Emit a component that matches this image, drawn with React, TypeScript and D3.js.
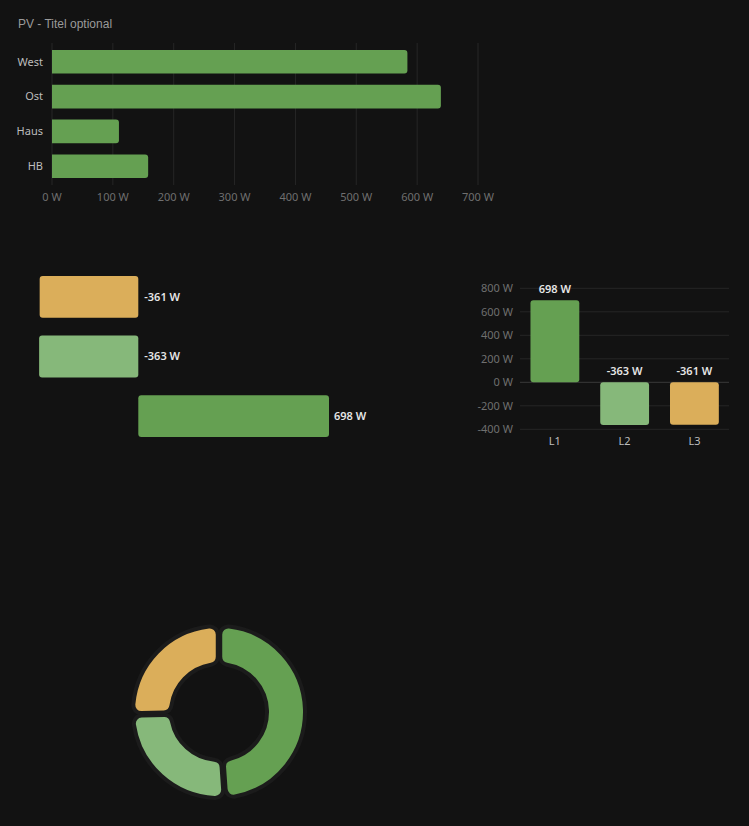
import React from "react";
import * as d3 from "d3";

// PV Erzeugung
const pvNames = ["West", "Ost", "Haus", "HB"];
const pvValues = [584, 639, 110, 158];
const pvTicks = [0, 100, 200, 300, 400, 500, 600, 700];

// Phasen
const phases = ["L1", "L2", "L3"];
const phaseValues = [698, -363, -361];
const phaseTicks = [800, 600, 400, 200, 0, -200, -400];
const phaseColors = ["#65a052", "#86b87a", "#dbae5a"];

// horizontal list, top to bottom
const listOrder = ["L3", "L2", "L1"];

const BG = "#121212";
const FONT = "'Noto Sans', 'Open Sans', sans-serif";

function PvChart() {
  const x = d3.scaleLinear().domain([0, 700]).range([52, 478]);
  const y = d3.scaleBand().domain(pvNames).range([44, 184]).paddingInner(0.32).paddingOuter(0.17);
  return (
    <g>
      <text x={18} y={28} fill="#9a9a9a" fontSize={12} fontFamily="'Liberation Sans', Arial, sans-serif">
        PV - Titel optional
      </text>
      {pvTicks.map((t) => (
        <g key={t}>
          <line x1={x(t)} x2={x(t)} y1={43} y2={185} stroke="#262626" strokeWidth={1} />
          <text x={x(t)} y={201} fill="#6f6f6f" fontSize={11} textAnchor="middle" fontFamily={FONT}>
            {t} W
          </text>
        </g>
      ))}
      {pvNames.map((n, i) => {
        const w = x(pvValues[i]) - x(0);
        const h = y.bandwidth();
        const y0 = y(n)!;
        const r = 3;
        const x0 = x(0);
        const path = `M${x0},${y0}H${x0 + w - r}Q${x0 + w},${y0} ${x0 + w},${y0 + r}V${y0 + h - r}Q${x0 + w},${y0 + h} ${x0 + w - r},${y0 + h}H${x0}Z`;
        return (
          <g key={n}>
            <path d={path} fill="#65a052" />
            <text x={43} y={y0 + h / 2} dy="0.35em" fill="#bdbdbd" fontSize={11} textAnchor="end" fontFamily={FONT}>
              {n}
            </text>
          </g>
        );
      })}
    </g>
  );
}

function PhaseList() {
  const x = d3.scaleLinear().domain([0, 698]).range([138.3, 329]);
  const y = d3.scaleBand().domain(listOrder).range([267, 446]).paddingInner(0.3).paddingOuter(0.15);
  return (
    <g>
      {listOrder.map((p) => {
        const i = phases.indexOf(p);
        const v = phaseValues[i];
        const x0 = Math.min(x(0), x(v));
        const w = Math.abs(x(v) - x(0));
        const yy = y(p)!;
        return (
          <g key={p}>
            <rect x={x0} y={yy} width={w} height={y.bandwidth()} rx={3} fill={phaseColors[i]} />
            <text
              x={v < 0 ? x(0) + 6 : x(v) + 5}
              y={yy + y.bandwidth() / 2}
              dy="0.35em"
              fill="#e6e6e6"
              fontSize={11}
              fontWeight="600"
              fontFamily={FONT}
            >
              {v} W
            </text>
          </g>
        );
      })}
    </g>
  );
}

function PhaseColumns() {
  const y = d3.scaleLinear().domain([-400, 800]).range([429.3, 288.3]);
  const x = d3.scaleBand().domain(phases).range([520, 729.3]).paddingInner(0.3).paddingOuter(0.15);
  return (
    <g>
      {phaseTicks.map((t) => (
        <g key={t}>
          <line x1={520} x2={729} y1={y(t)} y2={y(t)} stroke={t === 0 ? "#3a3a3a" : "#262626"} strokeWidth={1} />
          <text x={513} y={y(t)} dy="0.35em" fill="#6f6f6f" fontSize={11} textAnchor="end" fontFamily={FONT}>
            {t} W
          </text>
        </g>
      ))}
      {phases.map((p, i) => {
        const v = phaseValues[i];
        const y0 = Math.min(y(0), y(v));
        const h = Math.abs(y(v) - y(0));
        return (
          <g key={p}>
            <rect x={x(p)} y={y0} width={x.bandwidth()} height={h} rx={3} fill={phaseColors[i]} />
            <text
              x={x(p)! + x.bandwidth() / 2}
              y={y0 - 7}
              fill="#e6e6e6"
              fontSize={11}
              fontWeight="600"
              textAnchor="middle"
              fontFamily={FONT}
            >
              {v} W
            </text>
            <text x={x(p)! + x.bandwidth() / 2} y={445} fill="#bdbdbd" fontSize={11} textAnchor="middle" fontFamily={FONT}>
              {p}
            </text>
          </g>
        );
      })}
    </g>
  );
}

function Donut() {
  const pie = d3.pie<number>().sort(null).value((d) => Math.abs(d)).padAngle(0.025);
  const arc = d3.arc<d3.PieArcDatum<number>>().innerRadius(48).outerRadius(86).cornerRadius(8);
  const arcs = pie(phaseValues);
  return (
    <g transform="translate(219,712)">
      {arcs.map((a, i) => (
        <path key={i} d={arc(a)!} fill={phaseColors[i]} stroke="#1b1b1b" strokeWidth={4} strokeLinejoin="round" />
      ))}
    </g>
  );
}

export default function App() {
  return (
    <svg
      width={749}
      height={826}
      style={{ position: "absolute", left: 0, top: 0, display: "block", background: BG }}
    >
      <rect width={749} height={826} fill={BG} />
      <PvChart />
      <PhaseList />
      <PhaseColumns />
      <Donut />
    </svg>
  );
}
